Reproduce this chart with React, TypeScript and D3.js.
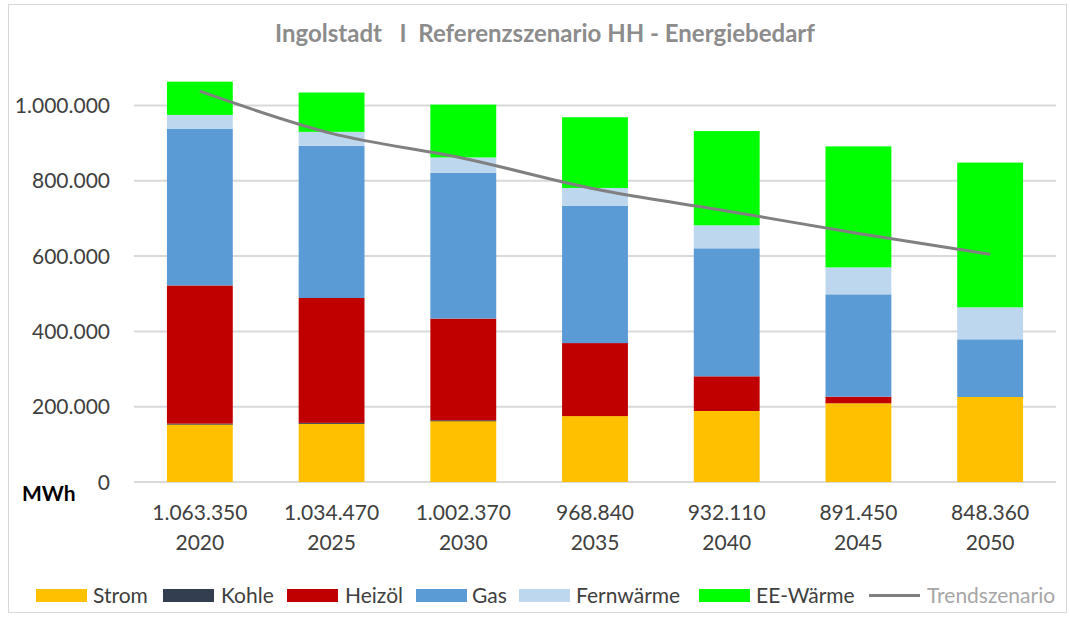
import React from 'react';
import * as d3 from 'd3';

// --- data (MWh) ---
const years = ['2020', '2025', '2030', '2035', '2040', '2045', '2050'];
const totals = [1063350, 1034470, 1002370, 968840, 932110, 891450, 848360];
const strom = [153000, 155000, 162000, 175000, 188600, 209000, 225800];
const kohle = [2000, 2000, 2000, 0, 0, 0, 0];
const heizoel = [367000, 331700, 270000, 194000, 92100, 17600, 0];
const gas = [415600, 404300, 387500, 365000, 340000, 271900, 153200];
const fernwaerme = [37400, 37000, 40500, 47000, 61100, 71500, 85000];
const eeWaerme = [88350, 104470, 140370, 187840, 250310, 321450, 384360];
const trend = [1038000, 926000, 860000, 778000, 720000, 660000, 605000];
const yTicks = [0, 200000, 400000, 600000, 800000, 1000000];

const series = [
  { name: 'Strom', values: strom, color: '#FFC000' },
  { name: 'Kohle', values: kohle, color: '#333F50' },
  { name: 'Heizöl', values: heizoel, color: '#C00000' },
  { name: 'Gas', values: gas, color: '#5B9BD5' },
  { name: 'Fernwärme', values: fernwaerme, color: '#BDD7EE' },
  { name: 'EE-Wärme', values: eeWaerme, color: '#00FF00' },
];

const de = d3.formatLocale({ decimal: ',', thousands: '.', grouping: [3], currency: ['', '€'] });
const fmt = de.format(',.0f');

const W = 1070;
const H = 619;
const FONT = 'Lato, "Open Sans", sans-serif';

export default function App() {
  const x = d3.scaleBand().domain(years).range([134, 1056]).paddingInner(0.5).paddingOuter(0.25);
  const y = d3.scaleLinear().domain([0, 1000000]).range([482, 105.5]);

  const table = years.map((yr, i) => {
    const row: any = { year: yr };
    series.forEach(s => (row[s.name] = s.values[i]));
    return row;
  });
  const stack = d3.stack().keys(series.map(s => s.name))(table);

  const line = d3
    .line<number>()
    .x((_, i) => (x(years[i]) as number) + x.bandwidth() / 2)
    .y(d => y(d))
    .curve(d3.curveMonotoneX);

  // legend layout: [swatch x, text x]
  const legendX = [
    [36, 93],
    [163, 221],
    [287, 345],
    [416, 472],
    [519, 576],
    [699, 756],
  ];
  const legendY = 595.5;

  return (
    <svg width={W} height={H} style={{ position: 'absolute', left: 0, top: 0, fontFamily: FONT }}>
      <rect x={0} y={0} width={W} height={H} fill="#fff" />
      <rect x={8.5} y={4.5} width={1058} height={608} fill="none" stroke="#d9d9d9" strokeWidth={1} />

      <text x={545} y={42} textAnchor="middle" fontSize={24} fontWeight="bold" fill="#8c8c8c" style={{ whiteSpace: 'pre' }}>
        {'Ingolstadt   I  Referenzszenario HH - Energiebedarf'}
      </text>

      {/* gridlines */}
      {yTicks.map(t => (
        <g key={t}>
          <line x1={134} x2={1056} y1={y(t)} y2={y(t)} stroke="#d9d9d9" strokeWidth={2} />
          <text x={110} y={y(t) + 7.5} textAnchor="end" fontSize={21} fill="#404040">
            {fmt(t)}
          </text>
        </g>
      ))}
      <text x={22} y={501} fontSize={21} fontWeight="bold" fill="#000">MWh</text>

      {/* bars */}
      {stack.map((layer, si) => (
        <g key={layer.key} fill={series[si].color}>
          {layer.map((d, i) =>
            d[1] - d[0] > 0 ? (
              <rect
                key={i}
                x={x(years[i])}
                width={x.bandwidth()}
                y={y(d[1])}
                height={Math.max(y(d[0]) - y(d[1]), 1)}
              />
            ) : null
          )}
        </g>
      ))}

      {/* trend */}
      <path d={line(trend) as string} fill="none" stroke="#808080" strokeWidth={3} />

      {/* x labels */}
      {years.map((yr, i) => {
        const cx = (x(yr) as number) + x.bandwidth() / 2;
        return (
          <g key={yr} fontSize={21} fill="#404040" textAnchor="middle">
            <text x={cx} y={520}>{fmt(totals[i])}</text>
            <text x={cx} y={550}>{yr}</text>
          </g>
        );
      })}

      {/* legend */}
      {series.map((s, i) => (
        <g key={s.name}>
          <rect x={legendX[i][0]} y={legendY - 6.5} width={51} height={13} fill={s.color} />
          <text x={legendX[i][1]} y={legendY + 7} fontSize={21} fill="#404040">{s.name}</text>
        </g>
      ))}
      <line x1={869} x2={920} y1={legendY} y2={legendY} stroke="#808080" strokeWidth={3} />
      <text x={927} y={legendY + 7} fontSize={21} fill="#a6a6a6">Trendszenario</text>
    </svg>
  );
}
